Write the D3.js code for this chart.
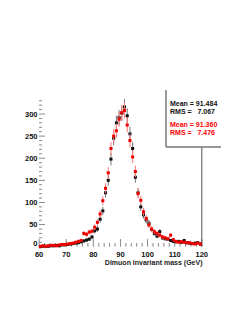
<!DOCTYPE html>
<html><head><meta charset="utf-8">
<script src="https://cdn.jsdelivr.net/npm/d3@7"></script>
<style>body{margin:0;background:#fff}svg{display:block}text{font-family:"Liberation Sans",Arial,sans-serif;font-weight:bold}</style>
</head><body><div id="c"></div>
<script>
// bin low edges (1 GeV bins)
const binEdges = d3.range(60, 120, 1);
const blackCounts = [0,1,1,1,2,2,3,2,4,4, 5,6,7,8,9,11,13,15,17,22, 36,40,62,81,122,150,198,245,280,292, 302,316,296,255,222,157,122,90,72,60, 53,39,30,24,34,20,18,17,14,12, 11,12,10,14,9,8,7,8,9,6];
const redCounts   = [1,2,1,2,3,3,2,4,5,5, 6,7,8,10,12,14,30,28,33,35, 44,55,74,104,132,167,222,250,262,288, 303,308,275,240,203,170,120,105,79,64, 49,40,34,30,26,22,20,18,26,16, 12,10,11,10,9,9,7,6,8,6];
const xTicks = [60,70,80,90,100,110,120];
const yTicks = [0,50,100,150,200,250,300];
const stats1 = ["Mean = 91.484","RMS =   7.067"];
const stats2 = ["Mean = 91.360","RMS =   7.476"];
const xTitle = "Dimuon invariant mass (GeV)";

const W=251,H=325;
const svg=d3.select("#c").append("svg").attr("width",W).attr("height",H);
const x=d3.scaleLinear().domain([60,120]).range([39.1,201.8]);
const y=d3.scaleLinear().domain([0,300]).range([246.7,114]);

// y axis ticks
const yMinor=d3.range(0,331,10);
svg.append("g").selectAll("line").data(yMinor).join("line")
  .attr("x1",39).attr("x2",d=>d%50===0?45:42)
  .attr("y1",d=>y(d)).attr("y2",d=>y(d)).attr("stroke","#888").attr("stroke-width",1);
svg.append("g").selectAll("text").data(yTicks).join("text")
  .attr("x",37.5).attr("y",d=>d===0?y(d)-0.8:y(d)+2.6).attr("text-anchor","end")
  .attr("font-size",7.5).attr("fill","#111").text(d=>d);

// x axis ticks
const xMinor=d3.range(60,121,2);
svg.append("g").selectAll("line").data(xMinor).join("line")
  .attr("x1",d=>x(d)).attr("x2",d=>x(d)).attr("y1",246.7).attr("y2",d=>d%10===0?239:243)
  .attr("stroke","#888").attr("stroke-width",1);
svg.append("g").selectAll("text").data(xTicks).join("text")
  .attr("x",d=>x(d)).attr("y",256.5).attr("text-anchor","middle")
  .attr("font-size",7.5).attr("fill","#111").text(d=>d);
svg.append("text").attr("x",202.5).attr("y",264.5).attr("text-anchor","end")
  .attr("font-size",7).attr("fill","#222").text(xTitle);

// right frame line
svg.append("line").attr("x1",x(120)).attr("x2",x(120)).attr("y1",147).attr("y2",246.7)
  .attr("stroke","#555").attr("stroke-width",1);

function drawSeries(counts,barColor,markColor,off){
  const g=svg.append("g");
  const data=binEdges.map((e,i)=>({c:e+0.5+off,v:counts[i],err:Math.sqrt(counts[i])}));
  g.selectAll("line.v").data(data).join("line").attr("class","v")
    .attr("x1",d=>x(d.c)).attr("x2",d=>x(d.c))
    .attr("y1",d=>y(Math.max(0,d.v-d.err))).attr("y2",d=>y(d.v+d.err))
    .attr("stroke",barColor).attr("stroke-width",1);
  g.selectAll("line.h").data(data).join("line").attr("class","h")
    .attr("x1",d=>x(d.c-0.5)).attr("x2",d=>x(d.c+0.5))
    .attr("y1",d=>y(d.v)).attr("y2",d=>y(d.v))
    .attr("stroke",barColor).attr("stroke-width",1);
  g.selectAll("rect").data(data).join("rect")
    .attr("x",d=>x(d.c)-1.5).attr("y",d=>y(d.v)-1.5).attr("width",3).attr("height",3)
    .attr("fill",markColor);
}
drawSeries(blackCounts,"#777","#111",0);
drawSeries(redCounts,"#f77","#e00",0);

// stats box
svg.append("rect").attr("x",166).attr("y",90).attr("width",55).attr("height",57).attr("fill","#fff");
svg.append("line").attr("x1",166).attr("x2",166).attr("y1",90).attr("y2",147).attr("stroke","#777").attr("stroke-width",1.5);
svg.append("line").attr("x1",166).attr("x2",221).attr("y1",147).attr("y2",147).attr("stroke","#777").attr("stroke-width",1.5);
svg.append("g").selectAll("text").data(stats1).join("text")
  .attr("x",170).attr("y",(d,i)=>106+i*7.5).attr("font-size",7).attr("fill","#111")
  .attr("xml:space","preserve").style("white-space","pre").text(d=>d);
svg.append("g").selectAll("text").data(stats2).join("text")
  .attr("x",170).attr("y",(d,i)=>127+i*7.5).attr("font-size",7).attr("fill","#f00")
  .attr("xml:space","preserve").style("white-space","pre").text(d=>d);
</script></body></html>
